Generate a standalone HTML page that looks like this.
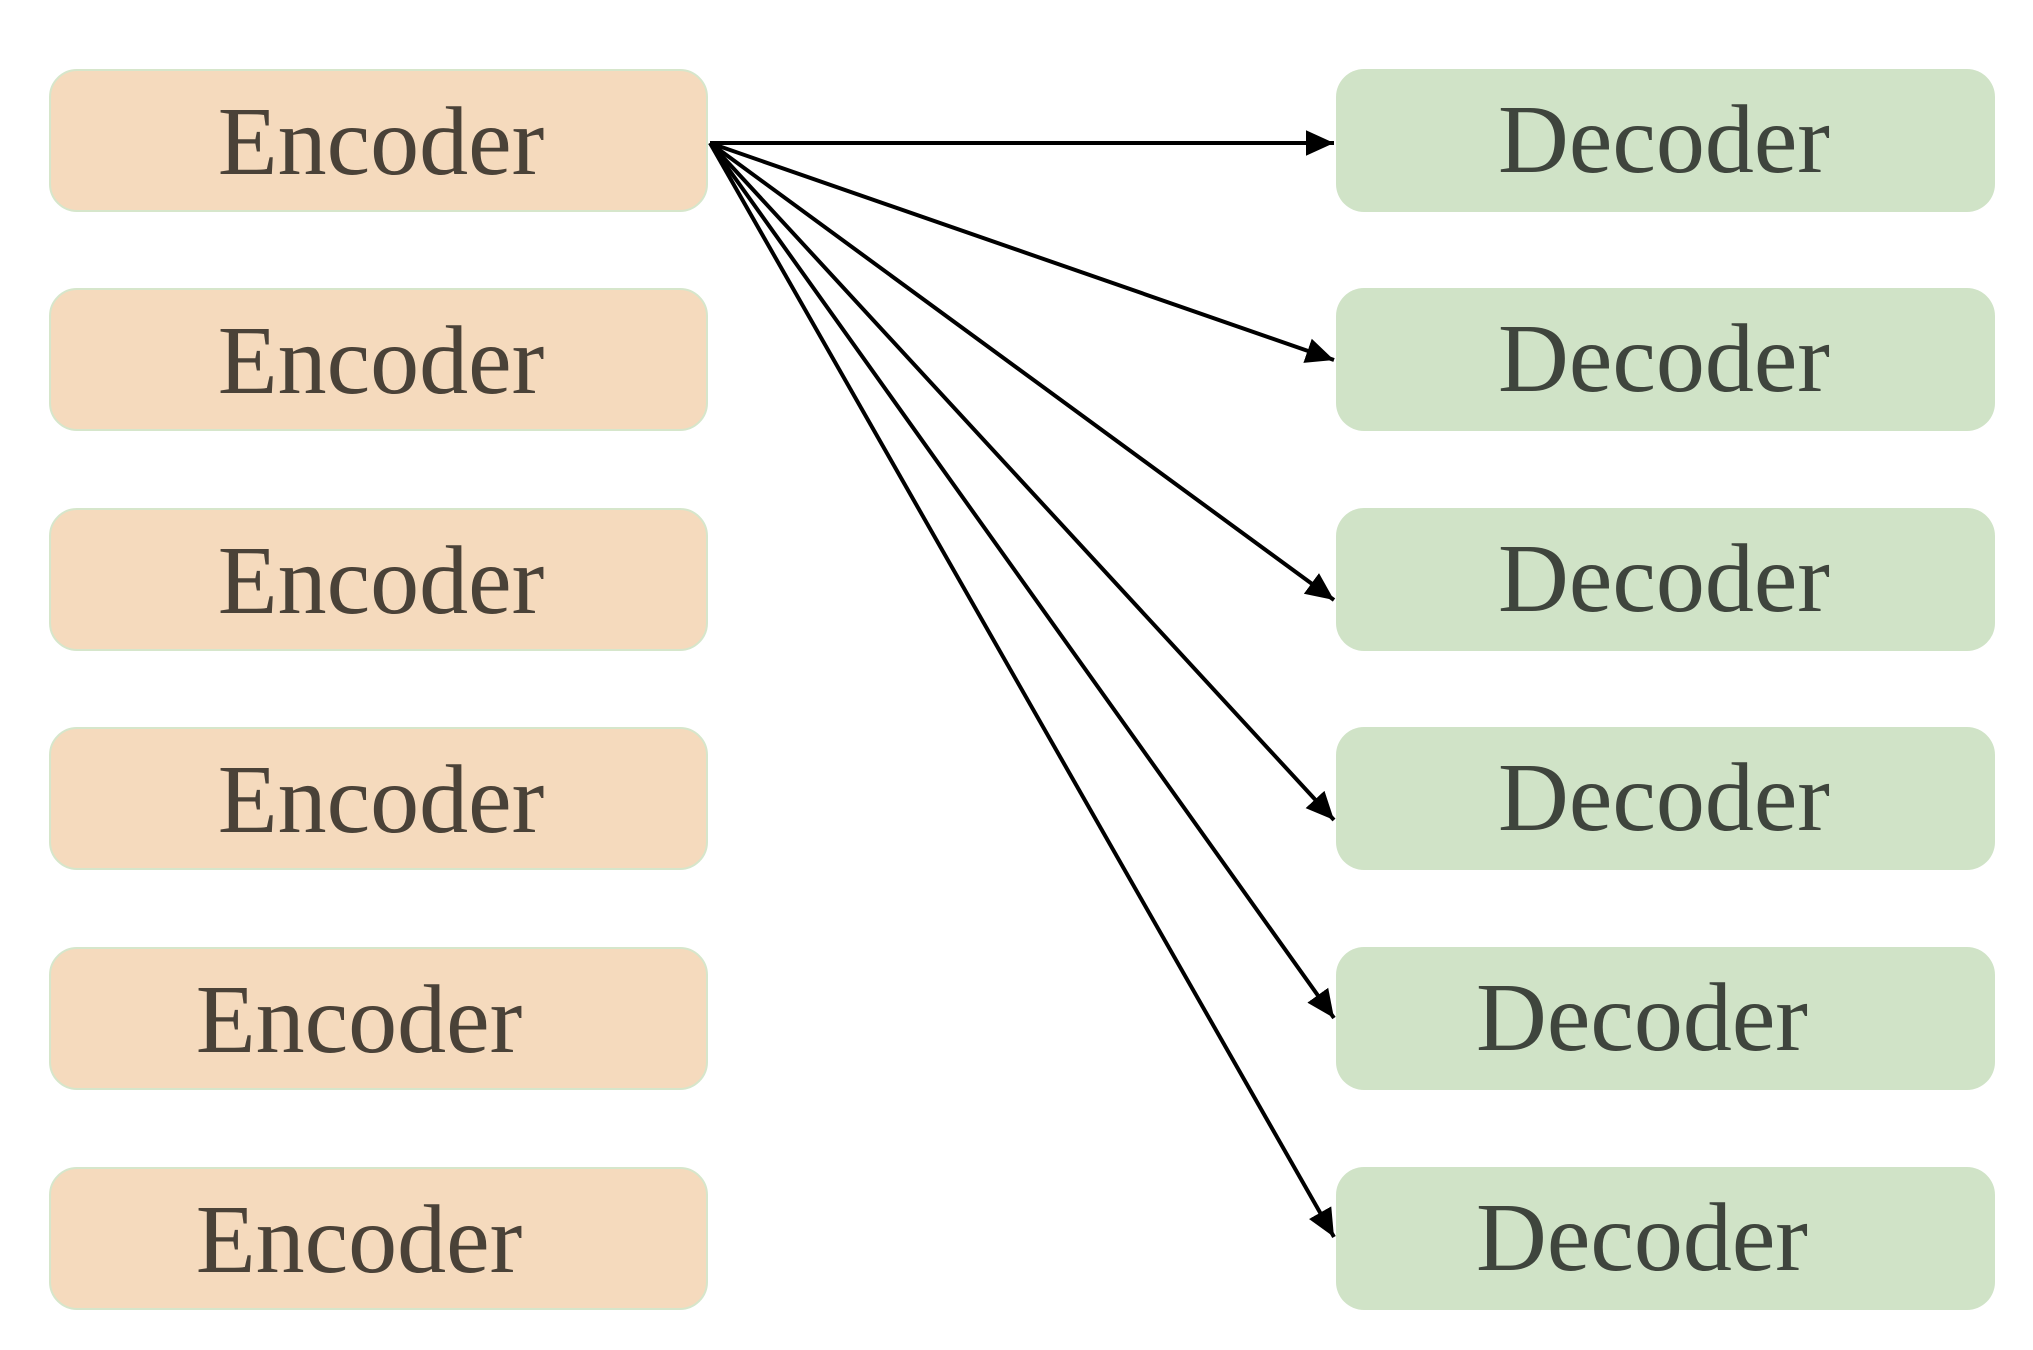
<!DOCTYPE html>
<html><head><style>
html,body{margin:0;padding:0;background:#fff;}
body{width:2033px;height:1350px;position:relative;overflow:hidden;font-family:"Liberation Serif",serif;}
.b{position:absolute;width:659px;height:143px;border-radius:28px;box-sizing:border-box;}
.e{left:49px;background:#f5dabd;border:2px solid #d6e6cb;color:#4a4238;}
.d{left:1336px;background:#d0e3c7;color:#3f453d;}
.t{position:absolute;top:0;line-height:143px;font-size:98px;white-space:nowrap;transform:translateX(-50%);}
</style></head><body>
<div class="b e" style="top:69px"><span class="t" style="left:330px">Encoder</span></div>
<div class="b e" style="top:288px"><span class="t" style="left:330px">Encoder</span></div>
<div class="b e" style="top:508px"><span class="t" style="left:330px">Encoder</span></div>
<div class="b e" style="top:727px"><span class="t" style="left:330px">Encoder</span></div>
<div class="b e" style="top:947px"><span class="t" style="left:308px">Encoder</span></div>
<div class="b e" style="top:1167px"><span class="t" style="left:308px">Encoder</span></div>
<div class="b d" style="top:69px"><span class="t" style="left:328px">Decoder</span></div>
<div class="b d" style="top:288px"><span class="t" style="left:328px">Decoder</span></div>
<div class="b d" style="top:508px"><span class="t" style="left:328px">Decoder</span></div>
<div class="b d" style="top:727px"><span class="t" style="left:328px">Decoder</span></div>
<div class="b d" style="top:947px"><span class="t" style="left:306px">Decoder</span></div>
<div class="b d" style="top:1167px"><span class="t" style="left:306px">Decoder</span></div>
<svg width="2033" height="1350" style="position:absolute;left:0;top:0">
<defs><marker id="a" markerWidth="8" markerHeight="8" refX="7" refY="4" orient="auto" markerUnits="strokeWidth"><path d="M0,0.8 L7,4 L0,7.2 z" fill="#000"/></marker></defs>
<g stroke="#000" stroke-width="4" fill="none" marker-end="url(#a)">
<line x1="710" y1="143" x2="1334" y2="143"/>
<line x1="710" y1="143" x2="1334" y2="360"/>
<line x1="710" y1="143" x2="1334" y2="600"/>
<line x1="710" y1="143" x2="1334" y2="820"/>
<line x1="710" y1="143" x2="1334" y2="1018"/>
<line x1="710" y1="143" x2="1334" y2="1237"/>
</g></svg>
</body></html>
